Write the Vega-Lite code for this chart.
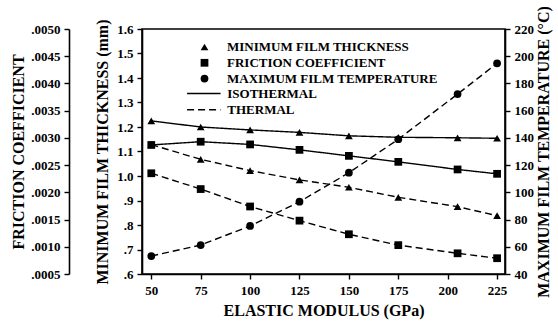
{
  "$schema": "https://vega.github.io/schema/vega-lite/v6.json",
  "width": 363,
  "height": 245,
  "autosize": {"type": "none"},
  "padding": {"left": 142, "top": 29, "right": 53, "bottom": 50},
  "background": "white",
  "config": {
    "view": {"stroke": "black", "strokeWidth": 1.6},
    "font": "Liberation Serif",
    "axis": {
      "grid": false,
      "domainColor": "black",
      "domainWidth": 1.6,
      "tickColor": "black",
      "tickWidth": 1.4,
      "tickSize": 5,
      "labelFont": "Liberation Serif",
      "labelFontWeight": "bold",
      "labelFontSize": 13,
      "labelColor": "black",
      "labelPadding": 4,
      "titleFont": "Liberation Serif",
      "titleFontWeight": "bold",
      "titleFontSize": 16,
      "titleColor": "black"
    },
    "legend": {
      "labelFont": "Liberation Serif",
      "labelFontWeight": "bold",
      "labelFontSize": 13,
      "labelColor": "black",
      "labelLimit": 0,
      "padding": 0,
      "rowPadding": 2.3
    }
  },
  "data": {
    "values": [
      {"E": 50, "m": "ISOTHERMAL", "q": "MINIMUM FILM THICKNESS", "v": 1.225},
      {"E": 75, "m": "ISOTHERMAL", "q": "MINIMUM FILM THICKNESS", "v": 1.2},
      {"E": 100, "m": "ISOTHERMAL", "q": "MINIMUM FILM THICKNESS", "v": 1.188},
      {"E": 125, "m": "ISOTHERMAL", "q": "MINIMUM FILM THICKNESS", "v": 1.178},
      {"E": 150, "m": "ISOTHERMAL", "q": "MINIMUM FILM THICKNESS", "v": 1.164},
      {"E": 175, "m": "ISOTHERMAL", "q": "MINIMUM FILM THICKNESS", "v": 1.158},
      {"E": 205, "m": "ISOTHERMAL", "q": "MINIMUM FILM THICKNESS", "v": 1.156},
      {"E": 225, "m": "ISOTHERMAL", "q": "MINIMUM FILM THICKNESS", "v": 1.154},
      {"E": 50, "m": "THERMAL", "q": "MINIMUM FILM THICKNESS", "v": 1.128},
      {"E": 75, "m": "THERMAL", "q": "MINIMUM FILM THICKNESS", "v": 1.068},
      {"E": 100, "m": "THERMAL", "q": "MINIMUM FILM THICKNESS", "v": 1.022},
      {"E": 125, "m": "THERMAL", "q": "MINIMUM FILM THICKNESS", "v": 0.984},
      {"E": 150, "m": "THERMAL", "q": "MINIMUM FILM THICKNESS", "v": 0.954},
      {"E": 175, "m": "THERMAL", "q": "MINIMUM FILM THICKNESS", "v": 0.913},
      {"E": 205, "m": "THERMAL", "q": "MINIMUM FILM THICKNESS", "v": 0.875},
      {"E": 225, "m": "THERMAL", "q": "MINIMUM FILM THICKNESS", "v": 0.838},
      {"E": 50, "m": "ISOTHERMAL", "q": "FRICTION COEFFICIENT", "v": 0.00287},
      {"E": 75, "m": "ISOTHERMAL", "q": "FRICTION COEFFICIENT", "v": 0.00293},
      {"E": 100, "m": "ISOTHERMAL", "q": "FRICTION COEFFICIENT", "v": 0.00288},
      {"E": 125, "m": "ISOTHERMAL", "q": "FRICTION COEFFICIENT", "v": 0.00278},
      {"E": 150, "m": "ISOTHERMAL", "q": "FRICTION COEFFICIENT", "v": 0.00267},
      {"E": 175, "m": "ISOTHERMAL", "q": "FRICTION COEFFICIENT", "v": 0.00256},
      {"E": 205, "m": "ISOTHERMAL", "q": "FRICTION COEFFICIENT", "v": 0.00242},
      {"E": 225, "m": "ISOTHERMAL", "q": "FRICTION COEFFICIENT", "v": 0.00234},
      {"E": 50, "m": "THERMAL", "q": "FRICTION COEFFICIENT", "v": 0.00235},
      {"E": 75, "m": "THERMAL", "q": "FRICTION COEFFICIENT", "v": 0.00206},
      {"E": 100, "m": "THERMAL", "q": "FRICTION COEFFICIENT", "v": 0.00174},
      {"E": 125, "m": "THERMAL", "q": "FRICTION COEFFICIENT", "v": 0.00148},
      {"E": 150, "m": "THERMAL", "q": "FRICTION COEFFICIENT", "v": 0.00123},
      {"E": 175, "m": "THERMAL", "q": "FRICTION COEFFICIENT", "v": 0.00103},
      {"E": 205, "m": "THERMAL", "q": "FRICTION COEFFICIENT", "v": 0.00088},
      {"E": 225, "m": "THERMAL", "q": "FRICTION COEFFICIENT", "v": 0.00079},
      {"E": 50, "m": "THERMAL", "q": "MAXIMUM FILM TEMPERATURE", "v": 53.2},
      {"E": 75, "m": "THERMAL", "q": "MAXIMUM FILM TEMPERATURE", "v": 61.3},
      {"E": 100, "m": "THERMAL", "q": "MAXIMUM FILM TEMPERATURE", "v": 75.3},
      {"E": 125, "m": "THERMAL", "q": "MAXIMUM FILM TEMPERATURE", "v": 93.1},
      {"E": 150, "m": "THERMAL", "q": "MAXIMUM FILM TEMPERATURE", "v": 114.4},
      {"E": 175, "m": "THERMAL", "q": "MAXIMUM FILM TEMPERATURE", "v": 139},
      {"E": 205, "m": "THERMAL", "q": "MAXIMUM FILM TEMPERATURE", "v": 172.2},
      {"E": 225, "m": "THERMAL", "q": "MAXIMUM FILM TEMPERATURE", "v": 194.8}
    ]
  },
  "encoding": {
    "x": {
      "field": "E",
      "type": "quantitative",
      "scale": {"domain": [45.3, 229.0], "nice": false, "zero": false},
      "axis": {
        "values": [50, 75, 100, 125, 150, 175, 200, 225],
        "title": "ELASTIC MODULUS (GPa)",
        "labelPadding": 5,
        "titlePadding": 5
      }
    }
  },
  "layer": [
    {
      "transform": [{"filter": "datum.q === 'MINIMUM FILM THICKNESS'"}],
      "encoding": {
        "y": {
          "field": "v",
          "type": "quantitative",
          "scale": {"domain": [0.6, 1.6], "nice": false, "zero": false},
          "axis": {
            "orient": "left",
            "values": [0.6, 0.7, 0.8, 0.9, 1.0, 1.1, 1.2, 1.3, 1.4, 1.5, 1.6],
            "labelExpr": "datum.value < 0.95 ? substring(format(datum.value, '.1f'), 1) : format(datum.value, '.1f')",
            "title": "MINIMUM FILM THICKNESS (mm)",
            "titlePadding": 6
          }
        }
      },
      "layer": [
        {
          "mark": {"type": "line", "color": "black", "strokeWidth": 1.4},
          "encoding": {
            "strokeDash": {
              "field": "m",
              "type": "nominal",
              "scale": {"domain": ["ISOTHERMAL", "THERMAL"], "range": [[1, 0], [7, 4]]},
              "legend": {
                "title": null,
                "orient": "none",
                "legendX": 55.3,
                "legendY": 58,
                "symbolType": "M-4,0L4,0",
                "symbolSize": 70,
                "symbolFillColor": "transparent",
                "symbolStrokeColor": "black",
                "symbolStrokeWidth": 1.5,
                "rowPadding": 2.3,
                "labelOffset": 17
              }
            }
          }
        },
        {
          "mark": {"type": "point", "filled": true, "color": "black", "opacity": 1, "size": 60},
          "encoding": {
            "shape": {
              "field": "q",
              "type": "nominal",
              "scale": {
                "domain": ["MINIMUM FILM THICKNESS", "FRICTION COEFFICIENT", "MAXIMUM FILM TEMPERATURE"],
                "range": ["triangle-up", "square", "circle"]
              },
              "legend": {
                "title": null,
                "orient": "none",
                "legendX": 56,
                "legendY": 11.5,
                "symbolSize": 60,
                "symbolFillColor": "black",
                "symbolStrokeColor": "black",
                "symbolOpacity": 1,
                "rowPadding": 0.8,
                "labelOffset": 16
              }
            }
          }
        }
      ]
    },
    {
      "transform": [{"filter": "datum.q === 'FRICTION COEFFICIENT'"}],
      "encoding": {
        "y": {
          "field": "v",
          "type": "quantitative",
          "scale": {"domain": [0.0005, 0.005], "nice": false, "zero": false},
          "axis": {
            "orient": "left",
            "offset": 73,
            "values": [0.0005, 0.001, 0.0015, 0.002, 0.0025, 0.003, 0.0035, 0.004, 0.0045, 0.005],
            "labelExpr": "substring(format(datum.value, '.4f'), 1)",
            "title": "FRICTION COEFFICIENT",
            "titlePadding": 4
          }
        }
      },
      "layer": [
        {
          "mark": {"type": "line", "color": "black", "strokeWidth": 1.4},
          "encoding": {"strokeDash": {"field": "m", "type": "nominal"}}
        },
        {
          "mark": {"type": "point", "filled": true, "color": "black", "opacity": 1, "size": 60},
          "encoding": {"shape": {"field": "q", "type": "nominal"}}
        }
      ]
    },
    {
      "transform": [{"filter": "datum.q === 'MAXIMUM FILM TEMPERATURE'"}],
      "encoding": {
        "y": {
          "field": "v",
          "type": "quantitative",
          "scale": {"domain": [40, 220], "nice": false, "zero": false},
          "axis": {
            "orient": "right",
            "values": [40, 60, 80, 100, 120, 140, 160, 180, 200, 220],
            "title": "MAXIMUM FILM TEMPERATURE (°C)",
            "titleAngle": 270,
            "titlePadding": 18
          }
        }
      },
      "layer": [
        {
          "mark": {"type": "line", "color": "black", "strokeWidth": 1.4},
          "encoding": {"strokeDash": {"field": "m", "type": "nominal"}}
        },
        {
          "mark": {"type": "point", "filled": true, "color": "black", "opacity": 1, "size": 60},
          "encoding": {"shape": {"field": "q", "type": "nominal"}}
        }
      ]
    }
  ],
  "resolve": {"scale": {"y": "independent"}}
}
